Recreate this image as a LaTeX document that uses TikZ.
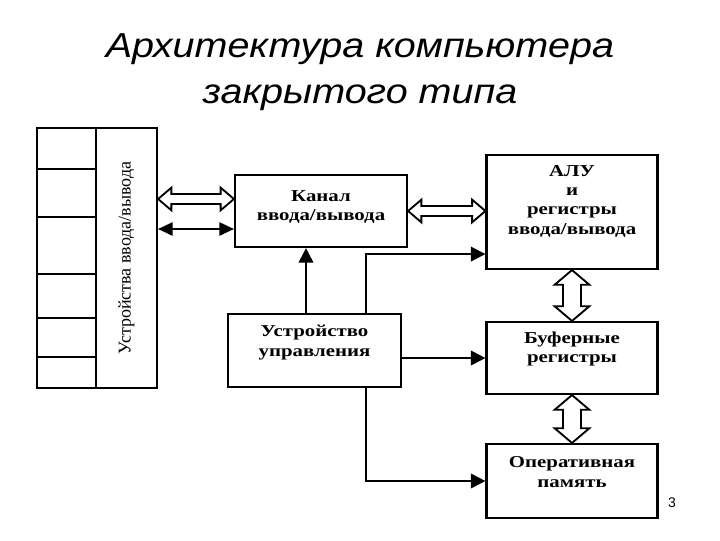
\documentclass[tikz,border=0pt]{standalone}
\usepackage{fontspec}
\setmainfont{Liberation Serif}
\setsansfont{Liberation Sans}
\newfontfamily\titlefont{Liberation Sans}[FakeStretch=1.14]
\newfontfamily\boxfont{Liberation Serif}[FakeStretch=1.25]
\usetikzlibrary{arrows.meta,calc}

% hollow double-headed bus arrows (left to right, top to bottom)
\newcommand\hbus[2]{\draw[bus] let \p1=#1, \p2=#2 in
  (\x1,\y1) -- (\x1+10pt,\y1+8.5pt) -- (\x1+10pt,\y1+3.75pt) -- (\x2-10pt,\y2+3.75pt)
  -- (\x2-10pt,\y2+8.5pt) -- (\x2,\y2) -- (\x2-10pt,\y2-8.5pt) -- (\x2-10pt,\y2-3.75pt)
  -- (\x1+10pt,\y1-3.75pt) -- (\x1+10pt,\y1-8.5pt) -- cycle;}
\newcommand\vbus[2]{\draw[bus] let \p1=#1, \p2=#2 in
  (\x1,\y1) -- (\x1+13pt,\y1+11pt) -- (\x1+6.75pt,\y1+11pt) -- (\x2+6.75pt,\y2-11pt)
  -- (\x2+13pt,\y2-11pt) -- (\x2,\y2) -- (\x2-13pt,\y2-11pt) -- (\x2-6.75pt,\y2-11pt)
  -- (\x1-6.75pt,\y1+11pt) -- (\x1-13pt,\y1+11pt) -- cycle;}

\tikzset{
  box/.style={draw, line width=1.6pt, inner sep=0pt},
  lbl/.style={font=\boxfont\bfseries\fontsize{12.5}{14.5}\selectfont, align=center, inner sep=0pt},
  wire/.style={line width=1.4pt},
  sig/.style={wire, -{Triangle[length=11pt,width=11pt]}},
  sigboth/.style={wire, {Triangle[length=11pt,width=10pt]}-{Triangle[length=11pt,width=10pt]}},
  bus/.style={line width=1.4pt, fill=white},
}

\begin{document}
\begin{tikzpicture}[x=0.75pt,y=0.75pt,yscale=-1,xscale=1]
\useasboundingbox (0,0) rectangle (720,540);

% Title
\node[font=\titlefont\itshape\fontsize{26}{30}\selectfont, anchor=base] (title1) at (360,57) {Архитектура компьютера};
\node[font=\titlefont\itshape\fontsize{26}{30}\selectfont, anchor=base] (title2) at (360,103) {закрытого типа};

% I/O devices
\node[box, minimum width=44.25pt, minimum height=195pt] (slots) at (66.5,258) {};
\node[box, minimum width=45.75pt, minimum height=195pt] (io) at (126.5,258) {};
\node[rotate=90, font=\fontsize{13.5}{15}\selectfont] (iotxt) at (io.center) {Устройства ввода/вывода};
\foreach \y in {169,217,274,318,357}
  \draw[line width=1.2pt] (slots.west |- 0,\y) -- (slots.east |- 0,\y);

% Blocks
\node[box, minimum width=129pt, minimum height=54pt] (kanal) at (321,211) {};
\node[box, minimum width=128.25pt, minimum height=85.5pt] (alu) at (572,212) {};
\node[box, minimum width=128.25pt, minimum height=54pt] (bufer) at (572,358) {};
\node[box, minimum width=128.25pt, minimum height=55.5pt] (ram) at (572,481) {};
\node[box, minimum width=129.75pt, minimum height=54.75pt] (ctrl) at (314.5,350.5) {};

\node[lbl] (kanaltxt) at ($(kanal.center)+(0,-4)$) {Канал\\ввода/вывода};
\node[lbl] (alutxt) at ($(alu.center)+(0,-11)$) {АЛУ\\и\\регистры\\ввода/вывода};
\node[lbl] (bufertxt) at ($(bufer.center)+(0,-9)$) {Буферные\\регистры};
\node[lbl] (ramtxt) at ($(ram.center)+(0,-9)$) {Оперативная\\память};
\node[lbl] (ctrltxt) at ($(ctrl.center)+(0,-8)$) {Устройство\\управления};

% Connections
\coordinate (busin) at ($(kanal.west)+(0,-12)$);
\coordinate (sigin) at ($(kanal.west)+(0,18)$);
\coordinate (up) at ($(ctrl.north)+(-8.5,0)$);
\coordinate (tap) at ($(ctrl.north)+(51.5,0)$);
\coordinate (aluin) at ($(alu.south west)+(0,-16)$);

\hbus{(io.east |- busin)}{(busin)}
\draw[sigboth] (io.east |- sigin) -- (sigin);
\hbus{(kanal.east)}{(alu.west |- kanal.east)}
\draw[sig] (up) -- (kanal.south -| up);
\draw[sig] (tap) |- (aluin);
\draw[sig] (ctrl.east |- bufer.west) -- (bufer.west);
\draw[sig] (ctrl.south -| tap) |- (ram.west);
\vbus{(alu.south)}{(bufer.north)}
\vbus{(bufer.south)}{(ram.north)}

\node[font=\sffamily\fontsize{10.5}{12}\selectfont] (pagenum) at (672,503) {3};
\end{tikzpicture}
\end{document}
